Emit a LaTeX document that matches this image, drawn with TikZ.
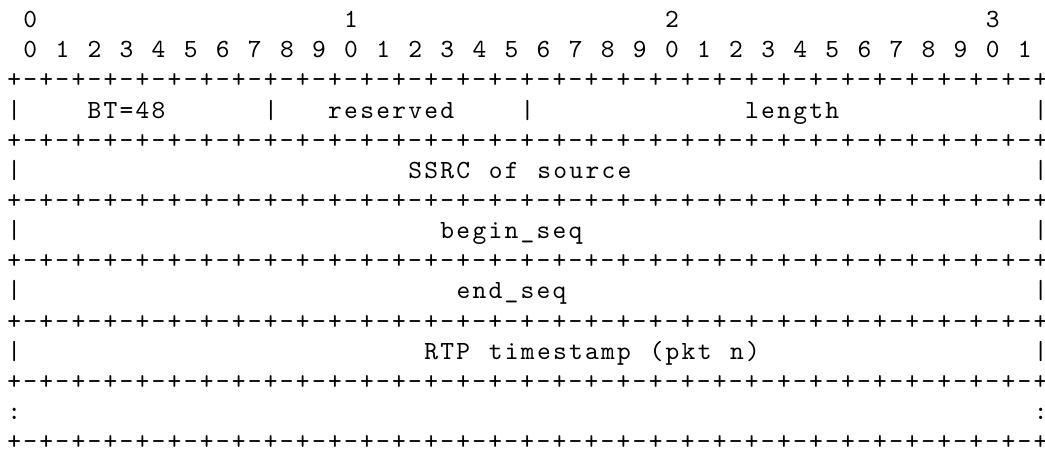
\documentclass[tikz,border=0pt]{standalone}
\usepackage{fontspec}
\newfontfamily\asciifont{lmmono10-regular.otf}[LetterSpace=8.7,WordSpace=1.166]
\usepackage{tikz}

% one character cell is 16.04 wide, one text line 30.14 high
\newcommand{\cx}[1]{6.98+16.04*(#1)}
\newcommand{\ry}[1]{27.6+30.14*(#1)}
\tikzset{ascii/.style={font=\asciifont\fontsize{13.1}{15}\selectfont, inner sep=0pt, anchor=base west}}

\begin{document}
\begin{tikzpicture}[x=0.5pt,y=-0.5pt]
    \useasboundingbox (0,0) rectangle (1045,449);

    % Bit ruler
    \foreach \t [count=\i from 0] in {0,1,2,3}
        \node[ascii] (tens\t) at ({\cx{1+20*\i}},{\ry{0}}) {\t};
    \foreach \b in {0,...,31} {
        \pgfmathtruncatemacro{\d}{mod(\b,10)}
        \node[ascii] (bit\b) at ({\cx{1+2*\b}},{\ry{1}}) {\d};
    }

    % Row borders
    \foreach \r in {2,4,...,14}
        \node[ascii] (border\r) at ({\cx{0}},{\ry{\r}}) {+-+-+-+-+-+-+-+-+-+-+-+-+-+-+-+-+-+-+-+-+-+-+-+-+-+-+-+-+-+-+-+-+};

    % First word
    \foreach \c in {0,16,32,64}
        \node[ascii] (bar3c\c) at ({\cx{\c}},{\ry{3}}) {|};
    \node[ascii] (bt) at ({\cx{5}},{\ry{3}}) {BT=48};
    \node[ascii] (reserved) at ({\cx{20}},{\ry{3}}) {reserved};
    \node[ascii] (length) at ({\cx{46}},{\ry{3}}) {length};

    % Full-width words
    \foreach \r in {5,7,9,11} {
        \node[ascii] (left\r) at ({\cx{0}},{\ry{\r}}) {|};
        \node[ascii] (right\r) at ({\cx{64}},{\ry{\r}}) {|};
    }
    \node[ascii] (ssrc) at ({\cx{25}},{\ry{5}}) {SSRC of source};
    \node[ascii] (beginseq) at ({\cx{27}},{\ry{7}}) {begin\_seq};
    \node[ascii] (endseq) at ({\cx{28}},{\ry{9}}) {end\_seq};
    \node[ascii] (rtpts) at ({\cx{26}},{\ry{11}}) {RTP timestamp (pkt n)};

    % Repeated part
    \node[ascii] (dotsleft) at ({\cx{0}},{\ry{13}}) {:};
    \node[ascii] (dotsright) at ({\cx{64}},{\ry{13}}) {:};
\end{tikzpicture}
\end{document}
